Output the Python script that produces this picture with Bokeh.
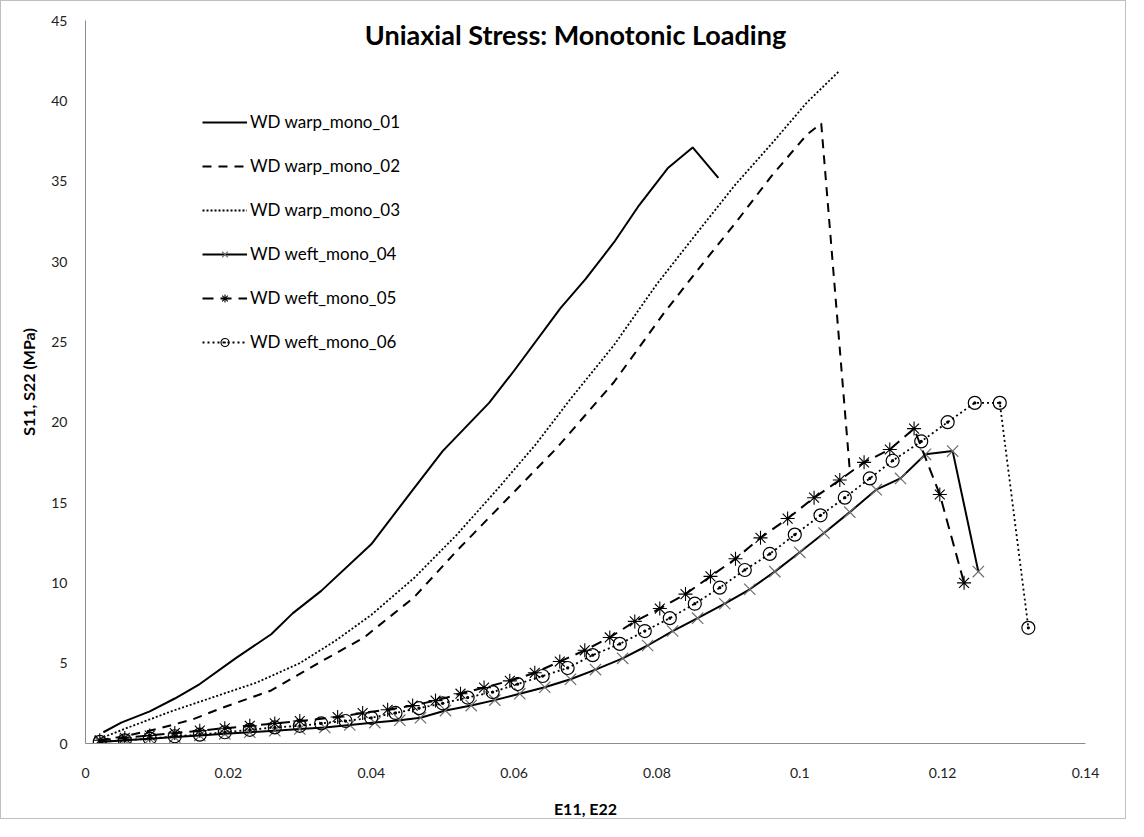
from bokeh.plotting import figure
from bokeh.models import Range1d, FixedTicker, Legend, LegendItem, Label
from bokeh.embed import file_html
from bokeh.resources import INLINE

title_text = "Uniaxial Stress: Monotonic Loading"
x_label = "E11, E22"
y_label = "S11, S22 (MPa)"

x_ticks = [0, 0.02, 0.04, 0.06, 0.08, 0.1, 0.12, 0.14]
x_tick_labels = ["0", "0.02", "0.04", "0.06", "0.08", "0.1", "0.12", "0.14"]
y_ticks = [0, 5, 10, 15, 20, 25, 30, 35, 40, 45]

names = ["WD warp_mono_01", "WD warp_mono_02", "WD warp_mono_03",
         "WD weft_mono_04", "WD weft_mono_05", "WD weft_mono_06"]

warp01_x = [0.0025, 0.005, 0.009, 0.0125, 0.016, 0.021, 0.026, 0.029, 0.033, 0.040, 0.0455,
            0.050, 0.0565, 0.060, 0.0665, 0.070, 0.074, 0.0775, 0.0815, 0.085, 0.0886]
warp01_y = [0.7, 1.3, 2.0, 2.8, 3.7, 5.3, 6.8, 8.1, 9.5, 12.4, 15.6,
            18.2, 21.2, 23.2, 27.1, 28.9, 31.2, 33.5, 35.8, 37.1, 35.2]

warp02_x = [0.002, 0.006, 0.010, 0.015, 0.019, 0.026, 0.033, 0.039, 0.046, 0.052, 0.059,
            0.066, 0.074, 0.081, 0.087, 0.091, 0.096, 0.101, 0.103, 0.107]
warp02_y = [0.2, 0.5, 0.9, 1.5, 2.2, 3.3, 5.1, 6.6, 9.1, 12.0, 15.2,
            18.4, 22.5, 26.8, 30.2, 32.4, 35.3, 37.9, 38.6, 17.0]

warp03_x = [0.002, 0.006, 0.012, 0.018, 0.024, 0.030, 0.035, 0.040, 0.046, 0.052, 0.058,
            0.063, 0.068, 0.074, 0.080, 0.086, 0.091, 0.096, 0.101, 0.1054]
warp03_y = [0.3, 1.0, 2.0, 2.9, 3.8, 5.0, 6.4, 8.0, 10.3, 13.0, 16.0,
            18.6, 21.5, 24.8, 28.6, 32.0, 34.8, 37.3, 39.9, 41.8]

weft04_x = [0.002, 0.0055, 0.009, 0.0125, 0.016, 0.0195, 0.023, 0.0265, 0.030, 0.0335, 0.037,
            0.0405, 0.044, 0.0469, 0.0504, 0.054, 0.0573, 0.0608, 0.0643, 0.0679, 0.0714,
            0.0752, 0.0787, 0.0822, 0.0857, 0.0895, 0.093, 0.0965, 0.1, 0.1034, 0.107,
            0.1107, 0.1141, 0.1176, 0.1214, 0.125]
weft04_y = [0.1, 0.2, 0.3, 0.4, 0.5, 0.6, 0.7, 0.8, 0.9, 1.0, 1.15,
            1.3, 1.45, 1.6, 2.05, 2.36, 2.7, 3.1, 3.5, 4.0, 4.6,
            5.3, 6.1, 7.0, 7.8, 8.7, 9.6, 10.7, 11.9, 13.1, 14.4,
            15.8, 16.5, 18.0, 18.2, 10.7]

weft05_x = [0.002, 0.0055, 0.009, 0.0125, 0.016, 0.0195, 0.023, 0.0265, 0.030, 0.0353, 0.0388,
            0.0423, 0.0458, 0.049, 0.0525, 0.0558, 0.0594, 0.0629, 0.0664, 0.0699, 0.0734,
            0.0769, 0.0804, 0.084, 0.0875, 0.091, 0.0945, 0.0983, 0.102, 0.1056, 0.109,
            0.1126, 0.116, 0.1196, 0.123]
weft05_y = [0.2, 0.35, 0.5, 0.65, 0.8, 0.95, 1.1, 1.25, 1.4, 1.65, 1.9,
            2.1, 2.36, 2.67, 3.1, 3.48, 3.9, 4.4, 5.1, 5.8, 6.6,
            7.6, 8.4, 9.3, 10.4, 11.5, 12.8, 14.0, 15.3, 16.4, 17.5,
            18.3, 19.6, 15.5, 10.0]

weft06_x = [0.002, 0.0055, 0.009, 0.0125, 0.016, 0.0195, 0.023, 0.0265, 0.030, 0.033, 0.0364,
            0.040, 0.0434, 0.0467, 0.05, 0.0535, 0.057, 0.0605, 0.064, 0.0675, 0.071,
            0.0748, 0.0783, 0.0818, 0.0853, 0.0888, 0.0923, 0.0958, 0.0993, 0.1029, 0.1063,
            0.1098, 0.113, 0.117, 0.1207, 0.1245, 0.128, 0.132]
weft06_y = [0.1, 0.2, 0.3, 0.45, 0.55, 0.7, 0.85, 1.0, 1.1, 1.25, 1.4,
            1.6, 1.9, 2.2, 2.5, 2.86, 3.2, 3.7, 4.2, 4.7, 5.5,
            6.2, 7.0, 7.8, 8.7, 9.7, 10.8, 11.8, 13.0, 14.2, 15.3,
            16.5, 17.6, 18.8, 20.0, 21.2, 21.2, 7.2]

FONT = "Lato"

p = figure(width=1126, height=819, output_backend="svg", toolbar_location=None,
           x_range=Range1d(0, 0.14), y_range=Range1d(0, 45),
           min_border_left=84, min_border_right=42, min_border_top=19, min_border_bottom=75)
p.styles = {"border": "1px solid #bfbfbf"}
p.outline_line_color = None
p.xgrid.grid_line_color = None
p.ygrid.grid_line_color = None
p.background_fill_color = "white"
p.border_fill_color = "white"

for ax in (p.xaxis[0], p.yaxis[0]):
    ax.axis_line_color = "#8c8c8c"
    ax.axis_line_width = 1
    ax.major_tick_line_color = None
    ax.minor_tick_line_color = None
    ax.major_label_text_font = FONT
    ax.major_label_text_font_size = "14px"
    ax.major_label_text_color = "#222222"
    ax.axis_label_text_font = FONT
    ax.axis_label_text_font_size = "16px"
    ax.axis_label_text_font_style = "bold"
    ax.axis_label_text_color = "black"

p.xaxis.ticker = FixedTicker(ticks=x_ticks)
p.xaxis.major_label_overrides = {t: l for t, l in zip(x_ticks, x_tick_labels)}
p.xaxis.major_label_standoff = 18
p.xaxis.axis_label = x_label
p.xaxis.axis_label_standoff = 18

p.yaxis.ticker = FixedTicker(ticks=y_ticks)
p.yaxis.major_label_standoff = 12
p.yaxis.axis_label = y_label
p.yaxis.axis_label_standoff = 10

items = []
r = p.line(warp01_x, warp01_y, line_color="black", line_width=2)
items.append(LegendItem(label=names[0], renderers=[r]))
r = p.line(warp02_x, warp02_y, line_color="black", line_width=2, line_dash="9 7")
items.append(LegendItem(label=names[1], renderers=[r]))
r = p.line(warp03_x, warp03_y, line_color="black", line_width=1.8, line_dash="2 2")
items.append(LegendItem(label=names[2], renderers=[r]))

r1 = p.line(weft04_x, weft04_y, line_color="black", line_width=2)
r2 = p.scatter(weft04_x, weft04_y, marker="x", size=16, line_color="#6e6e6e", line_width=1.2)
items.append(LegendItem(label=names[3], renderers=[r1, r2]))

r1 = p.line(weft05_x, weft05_y, line_color="black", line_width=2, line_dash="11 7")
r2 = p.scatter(weft05_x, weft05_y, marker="asterisk", size=14, line_color="black", line_width=1.1)
items.append(LegendItem(label=names[4], renderers=[r1, r2]))

r1 = p.line(weft06_x, weft06_y, line_color="black", line_width=1.8, line_dash="2 3")
r2 = p.scatter(weft06_x, weft06_y, marker="circle_dot", size=13, fill_color=None,
               line_color="black", line_width=1.2)
items.append(LegendItem(label=names[5], renderers=[r1, r2]))

legend = Legend(items=items, location=(117, 391), glyph_width=45, glyph_height=20,
                label_height=20, label_standoff=3, spacing=23, padding=0, margin=0,
                border_line_color=None, background_fill_alpha=0,
                label_text_font=FONT, label_text_font_size="17px", label_text_color="black")
p.add_layout(legend, "center")

title = Label(x=0.0686, y=44.1, text=title_text, text_align="center", text_baseline="middle",
              text_font=FONT, text_font_size="27px", text_font_style="bold", text_color="black")
p.add_layout(title)

open("out.html", "w").write(file_html(p, INLINE))
